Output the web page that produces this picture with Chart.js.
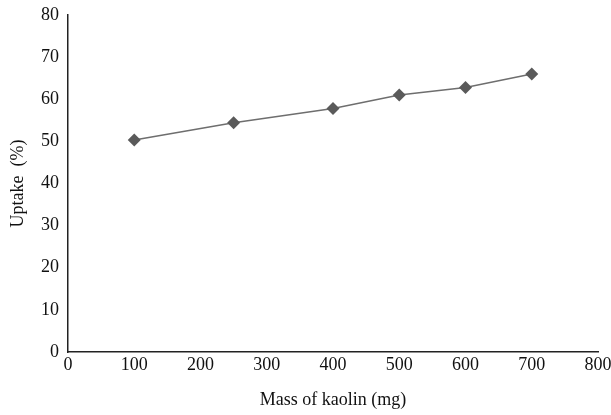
<!DOCTYPE html>
<html>
<head>
<meta charset="utf-8">
<script src="https://cdn.jsdelivr.net/npm/chart.js@4.4.1/dist/chart.umd.min.js"></script>
<style>
  html, body { margin: 0; padding: 0; background: #fff; }
  #wrap { width: 611px; height: 415px; }
</style>
</head>
<body>
<div id="wrap"><canvas id="uptake-chart"></canvas></div>
<script>
// khối lượng kaolin (mg) và phần trăm hấp thụ
const massKaolin = [100, 250, 400, 500, 600, 700];
const uptake = [50.3, 54.4, 57.8, 61.0, 62.8, 66.0];

const serif = "'Liberation Serif', 'Times New Roman', serif";

new Chart(
  document.getElementById('uptake-chart'),
  {
    type: 'line',
    data: {
      datasets: [
        {
          label: 'Uptake',
          data: massKaolin.map((m, i) => ({ x: m, y: uptake[i] })),
          borderColor: '#6e6e6e',
          borderWidth: 1.5,
          pointStyle: 'rectRot',
          pointRadius: 6.5,
          pointBackgroundColor: '#5a5a5a',
          pointBorderColor: '#5a5a5a',
          pointBorderWidth: 0,
          fill: false,
          tension: 0,
        }
      ]
    },
    options: {
      responsive: true,
      maintainAspectRatio: false,
      animation: false,
      layout: { padding: { top: 0, right: 0, left: 3, bottom: 0 } },
      plugins: {
        legend: { display: false },
        tooltip: { enabled: false },
      },
      scales: {
        x: {
          type: 'linear',
          min: 0,
          max: 800,
          afterFit: (scale) => { scale.height = 63; scale.paddingRight = 13; },
          ticks: { stepSize: 100, color: '#111', font: { family: serif, size: 18 }, padding: 2, maxRotation: 0 },
          grid: { display: false, drawTicks: false },
          border: { color: '#222', width: 1.5 },
          title: { display: true, text: 'Mass of kaolin (mg)', color: '#111', font: { family: serif, size: 18 }, padding: { top: 10 } },
        },
        y: {
          min: 0,
          max: 80,
          afterFit: (scale) => { scale.width = 65; scale.paddingTop = 15; },
          ticks: { stepSize: 10, color: '#111', font: { family: serif, size: 18 }, padding: 9 },
          grid: { display: false, drawTicks: false },
          border: { color: '#222', width: 1.5 },
          title: { display: true, text: 'Uptake  (%)', color: '#111', font: { family: serif, size: 18 }, padding: { bottom: 8 } },
        },
      },
    },
  }
);
</script>
</body>
</html>
